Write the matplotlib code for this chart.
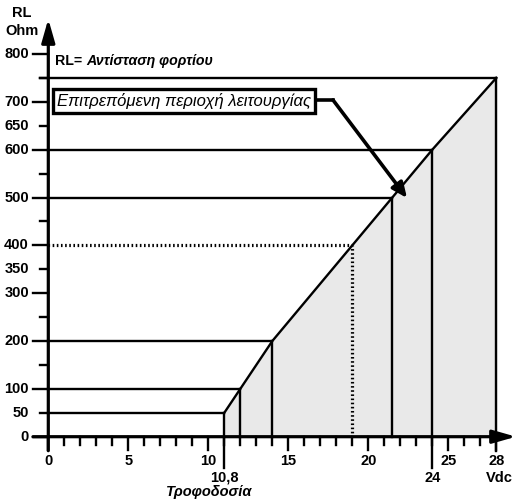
import numpy as np
import matplotlib
matplotlib.use("Agg")
import matplotlib.pyplot as plt

plt.rcParams['font.family'] = ['Liberation Sans', 'DejaVu Sans']

# operating limit: supply voltage (Vdc) vs max load resistance (Ohm)
v_pts = [11, 12, 14, 19, 21.5, 24, 28]
r_pts = [50, 100, 200, 400, 500, 600, 750]
dotted = [False, False, False, True, False, False, False]

x_ticks = list(range(0, 29))
x_labels = {0: "0", 5: "5", 10: "10", 15: "15", 20: "20", 25: "25", 28: "28"}
y_ticks = list(range(0, 801, 50))
y_labels = [0, 50, 100, 200, 300, 350, 400, 500, 600, 650, 700, 800]

# pixel scale of the original drawing
px_x = 16.0      # px per volt
px_y = 0.4784    # px per ohm
x0px = 48.3
y0px = 436.7

fig = plt.figure(figsize=(5.28, 5.01), dpi=100)
ax = fig.add_axes([0, 0, 1, 1])
ax.set_xlim(-x0px / px_x, (528 - x0px) / px_x)
ax.set_ylim(-(501 - y0px) / px_y, y0px / px_y)
ax.axis('off')

def dx(p):
    return p / px_x

def dy(p):
    return p / px_y

def X(px):
    return (px - x0px) / px_x

def Y(py):
    return (y0px - py) / px_y

lw_ax = 2.3
lw = 1.7
fs = 10.5

# shaded allowed region
ax.fill_between(v_pts, 0, r_pts, color='#e9e9e9', zorder=1)
ax.plot(v_pts, r_pts, color='black', lw=lw, zorder=3)

# horizontal / vertical guide lines
for v, r, d in zip(v_pts, r_pts, dotted):
    if d:
        kw = dict(ls=(0, (0.5, 0.8)), lw=2.3)
    else:
        kw = dict(ls='-', lw=lw)
    xs = X(40) if r == r_pts[-1] else 0
    ax.plot([xs, v], [r, r], color='black', zorder=3, **kw)
    ybot = 0
    if v in (11, 24):
        ybot = -dy(31)
    elif v == 28:
        ybot = -dy(14)
    ax.plot([v, v], [ybot, r], color='black', zorder=3, **kw)

# axes with arrows
ax.annotate('', xy=(X(516), 0), xytext=(X(33), 0),
            arrowprops=dict(arrowstyle='-|>,head_length=1.4,head_width=0.4',
                            lw=lw_ax, color='black', shrinkA=0, shrinkB=0), zorder=4)
ax.annotate('', xy=(0, Y(19)), xytext=(0, -dy(14)),
            arrowprops=dict(arrowstyle='-|>,head_length=1.4,head_width=0.4',
                            lw=lw_ax, color='black', shrinkA=0, shrinkB=0), zorder=4)

# x ticks
for t in x_ticks:
    ln = 13 if (t % 5 == 0 or t == 28) else 8
    ax.plot([t, t], [0, -dy(ln)], color='black', lw=lw, zorder=4)
    if t in x_labels:
        ax.text(t, -dy(24), x_labels[t], ha='center', va='center',
                fontsize=fs, fontweight='bold')

ax.text(11, -dy(41), "10,8", ha='center', va='center', fontsize=fs, fontweight='bold')
ax.text(24, -dy(41), "24", ha='center', va='center', fontsize=fs, fontweight='bold')
ax.text(X(499), -dy(41), "Vdc", ha='center', va='center', fontsize=fs, fontweight='bold')
ax.text(X(209), -dy(55), "Τροφοδοσία", ha='center', va='center', fontsize=fs,
        fontweight='bold', style='italic')

# y ticks
for t in y_ticks:
    ln = 15 if t % 100 == 0 else 8
    ax.plot([-dx(ln), 0], [t, t], color='black', lw=lw, zorder=4)
for t in y_labels:
    ax.text(X(29), t, str(t), ha='right', va='center', fontsize=fs, fontweight='bold')

ax.text(X(22), Y(13), "RL", ha='center', va='center', fontsize=fs, fontweight='bold')
ax.text(X(22), Y(31), "Ohm", ha='center', va='center', fontsize=fs, fontweight='bold')

# legend note: bold "RL=" then bold italic description
t1 = ax.text(X(55), Y(61), "RL= ", ha='left', va='center',
             fontsize=10.2, fontweight='bold')
fig.canvas.draw()
bb = t1.get_window_extent()
ax.text(X(bb.x1), Y(61), "Αντίσταση φορτίου", ha='left', va='center',
        fontsize=10.2, fontweight='bold', style='italic')

# annotation box with arrow
ax.text(X(57), Y(101), "Επιτρεπόμενη περιοχή λειτουργίας",
        ha='left', va='center', fontsize=12, style='italic', zorder=6,
        bbox=dict(boxstyle='square,pad=0.22', fc='white', ec='black', lw=2.4))
ax.plot([X(310), X(333)], [Y(100)] * 2, color='black', lw=2.6, zorder=5)
ax.annotate('', xy=(X(407), Y(198)), xytext=(X(333), Y(100)),
            arrowprops=dict(arrowstyle='-|>,head_length=0.9,head_width=0.4',
                            lw=2.6, color='black', shrinkA=0, shrinkB=0), zorder=5)

fig.savefig("out.png", dpi=100)
